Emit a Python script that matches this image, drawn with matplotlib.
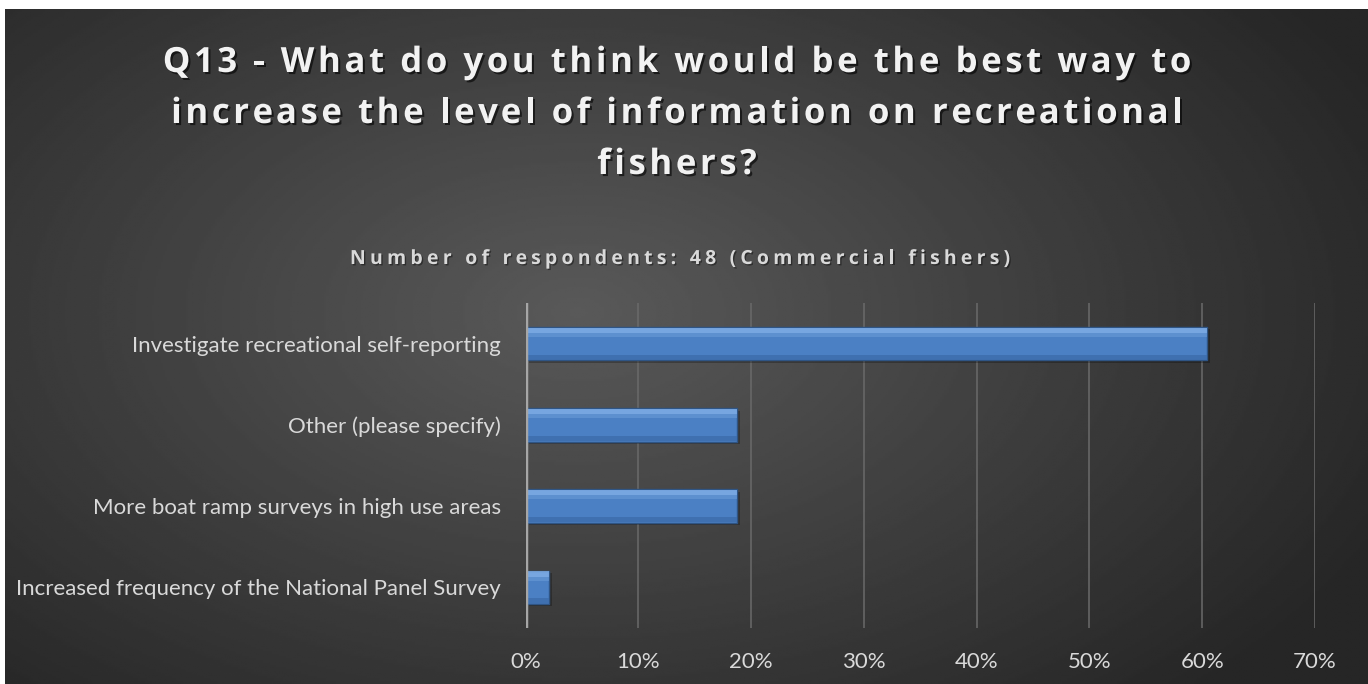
import numpy as np
import matplotlib.pyplot as plt
import matplotlib.patheffects as pe

# Daten
categories = [
    "Investigate recreational self-reporting",
    "Other (please specify)",
    "More boat ramp surveys in high use areas",
    "Increased frequency of the National Panel Survey",
]
shares = [29 / 48 * 100, 9 / 48 * 100, 9 / 48 * 100, 1 / 48 * 100]
x_ticks = [0, 10, 20, 30, 40, 50, 60, 70]
x_tick_labels = ["0%", "10%", "20%", "30%", "40%", "50%", "60%", "70%"]

title_lines = [
    "Q13 - What do you think would be the best way to",
    "increase the level of information on recreational",
    "fishers?",
]
subtitle = "Number of respondents: 48 (Commercial fishers)"

W, H = 1368, 684
fig = plt.figure(figsize=(W / 100, H / 100), dpi=100)
fig.patch.set_facecolor("white")
renderer = fig.canvas.get_renderer()


def text_width(s, **kw):
    # Breite inkl. Leerzeichen am Ende, über ein Hilfszeichen gemessen
    t1 = fig.text(0, 0, s + "|", **kw)
    t2 = fig.text(0, 0, "|", **kw)
    w = t1.get_window_extent(renderer).width - t2.get_window_extent(renderer).width
    t1.remove()
    t2.remove()
    return w


def spaced_text(line, xc, yb, track, **kw):
    # Text mit Zeichenabstand (wie in Excel), zentriert bei xc, Grundlinie yb (Pixel)
    total = text_width(line, **kw) + track * (len(line) - 1)
    x0 = xc - total / 2
    for i, ch in enumerate(line):
        if ch == " ":
            continue
        x = x0 + text_width(line[:i], **kw) + track * i
        fig.text(x / W, 1 - yb / H, ch, ha="left", va="baseline", **kw)


# Hintergrund mit radialem Verlauf
bg = fig.add_axes([5 / W, 0, 1 - 5 / W, 1 - 9 / H])
yy, xx = np.mgrid[0:1:300j, 0:1:600j]
r = np.sqrt(((xx - 0.42) / 0.75) ** 2 + ((yy - 0.55) / 0.9) ** 2)
shade = np.clip(0.35 - 0.23 * r, 0.15, 0.35)
bg.imshow(shade, cmap="gray", vmin=0, vmax=1, aspect="auto",
          extent=[0, 1, 0, 1], origin="lower")
bg.axis("off")

# Plotbereich
ax = fig.add_axes([525.7 / W, 1 - 628 / H, (1315 - 525.7) / W, 325 / H])
ax.set_facecolor("none")
y = np.arange(len(categories))
bar_h = 0.41
# Schatten
ax.barh(y + 0.03, shares, height=bar_h, left=0.25, color="black",
        alpha=0.25, linewidth=0, zorder=2)
ax.barh(y, shares, height=bar_h, color="#4b80c4", edgecolor="#2f5585",
        linewidth=1.0, zorder=3)
# Glanz oben, dunkler unten
ax.barh(y - bar_h * 0.40, shares, height=bar_h * 0.16, color="#86b3ea",
        linewidth=0, zorder=4, alpha=0.75)
ax.barh(y - bar_h * 0.26, shares, height=bar_h * 0.12, color="#6a9bd8",
        linewidth=0, zorder=4, alpha=0.6)
ax.barh(y + bar_h * 0.41, shares, height=bar_h * 0.16, color="#3d6cab",
        linewidth=0, zorder=4, alpha=0.8)

ax.set_xlim(0, 70)
ax.set_ylim(3.5, -0.5)
ax.set_xticks(x_ticks)
ax.set_xticklabels(x_tick_labels)
ax.set_yticks(y)
ax.set_yticklabels(categories)
ax.grid(axis="x", color="#6a6a6a", linewidth=1.1, zorder=0)
ax.axvline(0, color="#a6a6a6", linewidth=2.5, zorder=5)
for s in ax.spines.values():
    s.set_visible(False)
ax.tick_params(length=0, colors="#d9d9d9", labelsize=16)
ax.tick_params(axis="y", pad=18)
ax.tick_params(axis="x", pad=17)
for t in ax.get_xticklabels() + ax.get_yticklabels():
    t.set_fontfamily("Lato")

# Titel
shadow = [pe.withSimplePatchShadow(offset=(1.5, -1.5), shadow_rgbFace="black",
                                   alpha=0.6)]
for line, yb in zip(title_lines, [72, 123, 174]):
    spaced_text(line, 677, yb, 3.6, fontsize=25, fontweight="bold",
                color="#f2f2f2", family="Open Sans", path_effects=shadow)
spaced_text(subtitle, 680, 264, 4.2, fontsize=14, fontweight="bold",
            color="#d9d9d9", family="Open Sans",
            path_effects=[pe.withSimplePatchShadow(offset=(1, -1),
                                                   shadow_rgbFace="black",
                                                   alpha=0.4)])

fig.savefig("out.png", dpi=100, facecolor=fig.get_facecolor())
